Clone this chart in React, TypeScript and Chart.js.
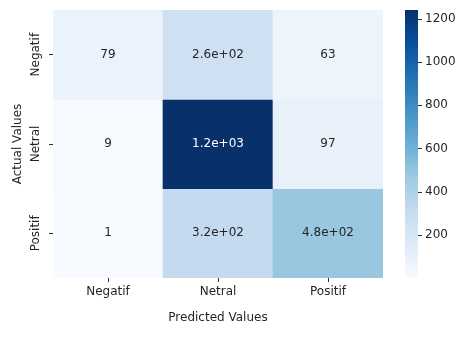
import React, { useEffect, useRef } from "react";
import { Chart, registerables } from "chart.js";

Chart.register(...registerables);

const predictedLabels = ["Negatif", "Netral", "Positif"];
const actualLabels = ["Negatif", "Netral", "Positif"];
const rowNegatif = [79, 260, 63];
const rowNetral = [9, 1240, 97];
const rowPositif = [1, 320, 480];
const colorbarTicks = [200, 400, 600, 800, 1000, 1200];
const xAxisTitle = "Predicted Values";
const yAxisTitle = "Actual Values";

const rows = [rowNegatif, rowNetral, rowPositif];
const allValues = rows.flat();
const vmin = Math.min(...allValues);
const vmax = Math.max(...allValues);

const BLUES = [
  "#f7fbff",
  "#deebf7",
  "#c6dbef",
  "#9ecae1",
  "#6baed6",
  "#4292c6",
  "#2171b5",
  "#08519c",
  "#08306b",
];

function hexToRgb(h: string): number[] {
  return [1, 3, 5].map((i) => parseInt(h.slice(i, i + 2), 16));
}

function bluesRgb(t: number): number[] {
  const tt = Math.max(0, Math.min(1, t));
  const pos = tt * (BLUES.length - 1);
  const i = Math.min(Math.floor(pos), BLUES.length - 2);
  const f = pos - i;
  const a = hexToRgb(BLUES[i]);
  const b = hexToRgb(BLUES[i + 1]);
  return a.map((v, k) => Math.round(v + (b[k] - v) * f));
}

function norm(v: number): number {
  return (v - vmin) / (vmax - vmin);
}

function cellColor(v: number): string {
  const [r, g, b] = bluesRgb(norm(v));
  return `rgb(${r},${g},${b})`;
}

function textColorFor(v: number): string {
  const rgb = bluesRgb(norm(v)).map((c) => {
    const s = c / 255;
    return s <= 0.03928 ? s / 12.92 : Math.pow((s + 0.055) / 1.055, 2.4);
  });
  const lum = 0.2126 * rgb[0] + 0.7152 * rgb[1] + 0.0722 * rgb[2];
  return lum > 0.408 ? "#262626" : "#ffffff";
}

function fmt2g(v: number): string {
  if (v === 0) return "0";
  const exp = Math.floor(Math.log10(Math.abs(v)));
  if (exp >= 2 || exp < -4) {
    let s = v.toExponential(1);
    let [m, e] = s.split("e");
    if (m.includes(".")) m = m.replace(/\.?0+$/, "");
    const sign = e[0] === "-" ? "-" : "+";
    let digits = e.replace(/^[+-]/, "");
    if (digits.length < 2) digits = "0" + digits;
    return `${m}e${sign}${digits}`;
  }
  return String(Number(v.toPrecision(2)));
}

const FONT = "'DejaVu Sans', sans-serif";
const TEXT = "#262626";
const TICKC = "#333333";

const heatmapExtras = {
  id: "heatmapExtras",
  afterDatasetsDraw(chart: any) {
    const ctx = chart.ctx as CanvasRenderingContext2D;
    ctx.save();
    ctx.font = `12px ${FONT}`;
    ctx.textAlign = "center";
    ctx.textBaseline = "middle";
    chart.data.datasets.forEach((_ds: any, r: number) => {
      const meta = chart.getDatasetMeta(r);
      meta.data.forEach((el: any, c: number) => {
        const v = rows[r][c];
        const p = el.getProps(["x", "y", "base"], true);
        ctx.fillStyle = textColorFor(v);
        ctx.fillText(fmt2g(v), p.x, (p.y + p.base) / 2);
      });
    });

    const cb = chart.scales.cb;
    const area = chart.chartArea;
    const top = cb.getPixelForValue(vmax);
    const bottom = cb.getPixelForValue(vmin);
    const left = area.right + 22;
    const width = 13;
    const grad = ctx.createLinearGradient(0, bottom, 0, top);
    BLUES.forEach((c, i) => grad.addColorStop(i / (BLUES.length - 1), c));
    ctx.fillStyle = grad;
    ctx.fillRect(left, top, width, bottom - top);

    ctx.strokeStyle = TICKC;
    ctx.lineWidth = 1;
    cb.ticks.forEach((t: any) => {
      const py = Math.round(cb.getPixelForValue(t.value)) + 0.5;
      ctx.beginPath();
      ctx.moveTo(left + width, py);
      ctx.lineTo(left + width + 4, py);
      ctx.stroke();
    });
    ctx.restore();
  },
};

export default function App() {
  const ref = useRef<HTMLCanvasElement | null>(null);

  useEffect(() => {
    document.body.style.margin = "0";
    if (!ref.current) return;
    const datasets = rows.map((row, r) => ({
      label: actualLabels[r],
      data: row.map(() => [r, r + 1]),
      backgroundColor: row.map((v) => cellColor(v)),
      borderWidth: 0,
      barPercentage: 1,
      categoryPercentage: 1,
      grouped: false,
    }));

    const chart = new Chart(ref.current, {
      type: "bar",
      data: { labels: predictedLabels, datasets: datasets as any },
      plugins: [heatmapExtras],
      options: {
        responsive: false,
        animation: false,
        layout: { padding: { top: 10, right: 0, left: 0, bottom: 0 } },
        plugins: { legend: { display: false }, tooltip: { enabled: false } },
        scales: {
          x: {
            type: "category",
            offset: true,
            grid: {
              display: true,
              drawOnChartArea: false,
              drawTicks: true,
              tickLength: 4,
              color: TICKC,
              offset: false,
            },
            border: { display: false },
            ticks: {
              color: TEXT,
              font: { family: FONT, size: 12 },
              padding: 3,
              maxRotation: 0,
              minRotation: 0,
            },
            title: {
              display: true,
              text: xAxisTitle,
              color: TEXT,
              font: { family: FONT, size: 12 },
              padding: { top: 0, bottom: 13 },
            },
            afterFit: (s: any) => {
              s.height = 60;
              s.paddingLeft = 0;
              s.paddingRight = 0;
            },
          },
          y: {
            type: "linear",
            min: 0,
            max: 3,
            reverse: true,
            afterBuildTicks: (s: any) => {
              s.ticks = actualLabels.map((_l, i) => ({ value: i + 0.5 }));
            },
            grid: {
              display: true,
              drawOnChartArea: false,
              drawTicks: true,
              tickLength: 4,
              color: TICKC,
            },
            border: { display: false },
            ticks: {
              color: TEXT,
              font: { family: FONT, size: 12 },
              callback: (v: any) => actualLabels[Math.floor(Number(v))],
              minRotation: 90,
              maxRotation: 90,
              crossAlign: "center",
              padding: -9,
            },
            title: {
              display: true,
              text: yAxisTitle,
              color: TEXT,
              font: { family: FONT, size: 12 },
              padding: { top: 11, bottom: 0 },
            },
            afterFit: (s: any) => {
              s.width = 53;
              s.paddingTop = 0;
              s.paddingBottom = 0;
            },
          },
          cb: {
            type: "linear",
            position: "right",
            min: vmin,
            max: vmax,
            afterBuildTicks: (s: any) => {
              s.ticks = colorbarTicks.map((v) => ({ value: v }));
            },
            grid: { display: false, drawOnChartArea: false, drawTicks: false },
            border: { display: false },
            ticks: {
              color: TEXT,
              font: { family: FONT, size: 12 },
              padding: 42,
              callback: (v: any) => String(v),
            },
            afterFit: (s: any) => {
              s.width = 75;
              s.paddingTop = 0;
              s.paddingBottom = 0;
            },
          },
        },
      } as any,
    });
    return () => chart.destroy();
  }, []);

  return (
    <div style={{ width: 458, height: 338, background: "#fff" }}>
      <canvas ref={ref} width={458} height={338} />
    </div>
  );
}
